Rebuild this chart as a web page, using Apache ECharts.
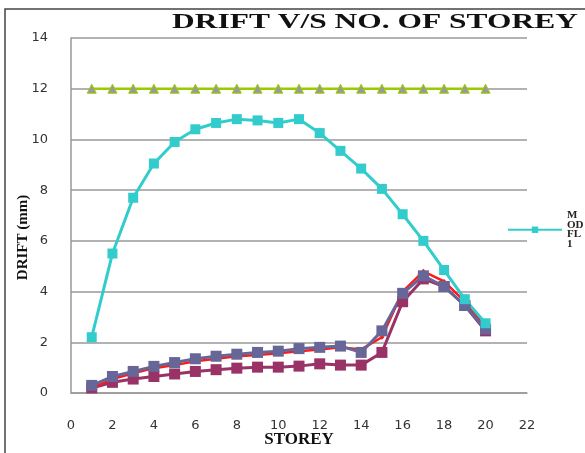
<!DOCTYPE html>
<html>
<head>
<meta charset="utf-8">
<script src="https://cdn.jsdelivr.net/npm/echarts@6/dist/echarts.min.js"></script>
<style>
html, body { margin: 0; padding: 0; background: #fff; }
#main { width: 585px; height: 453px; }
</style>
</head>
<body>
<div id="main"></div>
<script>
// storey numbers
const storeys = [1, 2, 3, 4, 5, 6, 7, 8, 9, 10, 11, 12, 13, 14, 15, 16, 17, 18, 19, 20];
// drift values (mm)
const limitDrift = [12, 12, 12, 12, 12, 12, 12, 12, 12, 12, 12, 12, 12, 12, 12, 12, 12, 12, 12, 12];
const cyanDrift = [2.2, 5.5, 7.7, 9.05, 9.9, 10.4, 10.65, 10.8, 10.75, 10.65, 10.8, 10.25, 9.55, 8.85, 8.05, 7.05, 6.0, 4.85, 3.7, 2.75];
const blueDrift = [0.3, 0.65, 0.85, 1.05, 1.2, 1.35, 1.45, 1.53, 1.6, 1.65, 1.75, 1.8, 1.85, 1.6, 2.45, 3.93, 4.62, 4.2, 3.45, 2.52];
const redDrift = [0.2, 0.55, 0.78, 0.98, 1.1, 1.25, 1.35, 1.45, 1.5, 1.57, 1.65, 1.72, 1.8, 1.72, 2.2, 4.0, 4.8, 4.4, 3.6, 2.6];
const maroonDrift = [0.2, 0.42, 0.55, 0.65, 0.75, 0.85, 0.92, 0.98, 1.02, 1.02, 1.06, 1.15, 1.1, 1.1, 1.6, 3.6, 4.5, 4.2, 3.45, 2.45];

const pairs = arr => storeys.map((s, i) => [s, arr[i]]);

const serif = '"Liberation Serif", "DejaVu Serif", serif';

const chart = echarts.init(document.getElementById('main'));
chart.setOption({
    animation: false,
    legend: {
        data: ['M\nOD\nFL\n1'],
        left: 502,
        top: 205,
        itemWidth: 54,
        itemHeight: 8,
        itemGap: 4,
        textStyle: { fontFamily: serif, fontWeight: 'bold', fontSize: 11, color: '#222', lineHeight: 9.5 }
    },
    graphic: [{
        type: 'polyline',
        shape: { points: [[5, 460], [5, 9], [590, 9]] },
        style: { stroke: '#444', lineWidth: 1.5, fill: null },
        silent: true
    }, {
        // chart title, stretched wide like the original
        type: 'text',
        x: 172,
        y: 11,
        scaleX: 1.43,
        style: {
            text: 'DRIFT V/S NO. OF STOREY',
            font: 'bold 22px "Liberation Serif", serif',
            fill: '#111'
        },
        silent: true
    }],
    grid: { left: 71, right: 58, top: 38, bottom: 60, outerBoundsMode: 'none' },
    xAxis: {
        type: 'value',
        min: 0,
        max: 22,
        interval: 2,
        name: 'STOREY',
        nameLocation: 'middle',
        nameGap: 38,
        nameMoveOverlap: false,
        nameTextStyle: { fontFamily: serif, fontWeight: 'bold', fontSize: 17, color: '#111' },
        axisLine: { lineStyle: { color: '#999', width: 1.5 } },
        axisTick: { show: false },
        axisLabel: { margin: 26, fontSize: 13, color: '#333', fontFamily: 'DejaVu Sans' },
        splitLine: { show: false }
    },
    yAxis: {
        type: 'value',
        min: 0,
        max: 14,
        interval: 2,
        name: 'DRIFT (mm)',
        nameLocation: 'middle',
        nameGap: 40,
        nameMoveOverlap: false,
        nameTextStyle: { fontFamily: serif, fontWeight: 'bold', fontSize: 15, color: '#111', padding: [0, 44, 0, 0] },
        axisLine: { show: true, lineStyle: { color: '#999', width: 1.5 } },
        axisTick: { show: false },
        axisLabel: { margin: 23, fontSize: 13, color: '#333', fontFamily: 'DejaVu Sans' },
        splitLine: { lineStyle: { color: '#999', width: 1.5 } }
    },
    series: [
        {
            name: 'maroon',
            type: 'line',
            data: pairs(maroonDrift),
            symbol: 'rect',
            symbolSize: 11,
            lineStyle: { color: '#993366', width: 3 },
            itemStyle: { color: '#993366' }
        },
        {
            name: 'red',
            type: 'line',
            data: pairs(redDrift),
            symbol: 'diamond',
            symbolSize: 5,
            lineStyle: { color: '#ff1a1a', width: 2.5 },
            itemStyle: { color: '#ff1a1a' }
        },
        {
            name: 'blue',
            type: 'line',
            data: pairs(blueDrift),
            symbol: 'rect',
            symbolSize: 11,
            lineStyle: { color: '#666699', width: 3 },
            itemStyle: { color: '#666699' }
        },
        {
            name: 'M\nOD\nFL\n1',
            type: 'line',
            data: pairs(cyanDrift),
            symbol: 'rect',
            symbolSize: 10,
            lineStyle: { color: '#33cccc', width: 3 },
            itemStyle: { color: '#33cccc' }
        },
        {
            name: 'limit',
            type: 'line',
            data: pairs(limitDrift),
            symbol: 'triangle',
            symbolSize: 9,
            lineStyle: { color: '#99cc00', width: 2.5 },
            itemStyle: { color: '#999999', borderColor: '#99cc00', borderWidth: 1 }
        }
    ]
});
</script>
</body>
</html>
